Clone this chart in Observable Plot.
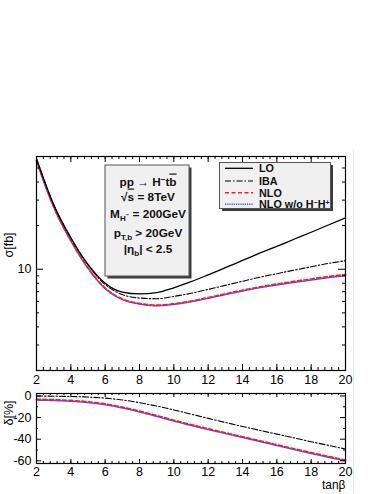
<!DOCTYPE html>
<html><head><meta charset="utf-8">
<script src="https://cdn.jsdelivr.net/npm/d3@7"></script>
<script src="https://cdn.jsdelivr.net/npm/@observablehq/plot@0.6"></script>
<style>
body{margin:0;background:#fff;width:382px;height:494px;overflow:hidden;position:relative;font-family:"Liberation Sans",Arial,Helvetica,sans-serif;}
#top{position:absolute;left:0;top:150px;}
#bot{position:absolute;left:0;top:385px;}
#edge{position:absolute;left:353px;top:150px;width:1px;height:344px;background:#e8e8e8;}
svg{overflow:visible;}
</style></head><body>
<div id="edge"></div>
<div id="top"></div><div id="bot"></div>
<script>
const tanb = [2,3,4,5,6,7,8,9,10,11,12,13,14,15,16,17,18,19,20];
const sigmaLO = [58,28,16.5,10.8,8.0,6.95,6.75,6.9,7.45,8.2,9.15,10.25,11.5,12.9,14.4,16.1,18.0,20.2,22.6];
const sigmaIBA = [58,27.94,16.42,10.69,7.84,6.69,6.33,6.26,6.49,6.82,7.26,7.74,8.26,8.80,9.32,9.85,10.39,10.97,11.45];
const sigmaNLO = [56.3,27.05,15.82,10.23,7.42,6.23,5.81,5.65,5.78,6.03,6.38,6.77,7.16,7.56,7.91,8.24,8.57,8.91,9.2];
const sigmaNLOwo = [55.8,26.82,15.69,10.14,7.35,6.18,5.75,5.60,5.72,5.96,6.30,6.68,7.07,7.46,7.79,8.11,8.42,8.75,9.02];
const deltaIBA = [0,-0.2,-0.5,-1.0,-2.0,-3.7,-6.2,-9.3,-12.9,-16.8,-20.7,-24.5,-28.2,-31.8,-35.3,-38.8,-42.3,-45.7,-49];
const deltaNLO = [-3,-3.4,-4.1,-5.3,-7.3,-10.3,-14.0,-18.1,-22.4,-26.5,-30.3,-34.0,-37.7,-41.4,-45.1,-48.8,-52.4,-55.9,-59.3];
const deltaNLOwo = [-3.8,-4.2,-4.9,-6.1,-8.1,-11.1,-14.8,-18.9,-23.2,-27.3,-31.1,-34.8,-38.5,-42.2,-45.9,-49.6,-53.2,-56.7,-60.1];
const xTickLabels = [2,4,6,8,10,12,14,16,18,20];
const xMinorTicks = d3.range(2, 20.001, 0.4);
const yTopMajor = [10];
const yTopMinor = [3,4,5,6,7,8,9,20,30,40,50];
const yBotMajor = [0,-20,-40,-60];
const yBotMinor = [-10,-30,-50];
const seriesNames = ["LO","IBA","NLO","NLO w/o H"];

const rows = (ys) => tanb.map((t,i)=>({t, v: ys[i]}));
const FONT = '"Liberation Sans",Arial,Helvetica,sans-serif';
const styles = {
  LO: {stroke:"#000", strokeWidth:1.3},
  IBA: {stroke:"#000", strokeWidth:1.1, strokeDasharray:"6,2,1.5,2"},
  NLO: {stroke:"#ff1a1a", strokeWidth:1.6, strokeDasharray:"4,2.5"},
  WO: {stroke:"#4d4dff", strokeWidth:1.5, strokeDasharray:"1.2,1"}
};

function frameTicks(W, H, majX, minX, majY, minY, majLen, minLen) {
  return [
    Plot.tickX(majX, {x: d=>d, insetTop: H-majLen, stroke:"#000"}),
    Plot.tickX(minX, {x: d=>d, insetTop: H-minLen, stroke:"#000"}),
    Plot.tickX(majX, {x: d=>d, insetBottom: H-majLen, stroke:"#000"}),
    Plot.tickX(minX, {x: d=>d, insetBottom: H-minLen, stroke:"#000"}),
    Plot.tickY(majY, {y: d=>d, insetRight: W-majLen-1, stroke:"#000"}),
    Plot.tickY(minY, {y: d=>d, insetRight: W-minLen, stroke:"#000"}),
    Plot.tickY(majY, {y: d=>d, insetLeft: W-majLen-1, stroke:"#000"}),
    Plot.tickY(minY, {y: d=>d, insetLeft: W-minLen, stroke:"#000"})
  ];
}

// ---------- top panel ----------
const tW = 382, tH = 240, tmT = 6, tmB = 20, tmL = 36, tmR = 37;
const topPlot = Plot.plot({
  width: tW, height: tH, marginTop: tmT, marginBottom: tmB, marginLeft: tmL, marginRight: tmR,
  style: {fontFamily: FONT, fontSize: "12.5px", background: "transparent", color: "#000"},
  x: {domain: [2, 20]},
  y: {type: "log", domain: [2, 60]},
  marks: [
    Plot.line(rows(sigmaNLOwo), {x:"t", y:"v", curve:"monotone-x", ...styles.WO}),
    Plot.line(rows(sigmaNLO), {x:"t", y:"v", curve:"monotone-x", ...styles.NLO}),
    Plot.line(rows(sigmaIBA), {x:"t", y:"v", curve:"monotone-x", ...styles.IBA}),
    Plot.line(rows(sigmaLO), {x:"t", y:"v", curve:"monotone-x", ...styles.LO}),
    ...frameTicks(tW-tmL-tmR, tH-tmT-tmB, xTickLabels, xMinorTicks, yTopMajor, yTopMinor, 6, 3),
    Plot.axisX({ticks: xTickLabels, tickSize: 0, tickPadding: 5, label: null, tickFormat: d=>d}),
    Plot.axisY({ticks: yTopMajor, tickSize: 0, tickPadding: 5, label: null, tickFormat: d=>d}),
    Plot.text(["σ[fb]"], {frameAnchor: "left", rotate: -90, dx: -28, dy: -6, fontSize: 12.5}),
    Plot.frame({stroke: "#000", strokeWidth: 1.2})
  ]
});
document.getElementById("top").appendChild(topPlot);

// ---------- bottom panel ----------
const bW = 382, bH = 109, bmT = 8, bmB = 31, bmL = 36, bmR = 37;
const botPlot = Plot.plot({
  width: bW, height: bH, marginTop: bmT, marginBottom: bmB, marginLeft: bmL, marginRight: bmR,
  style: {fontFamily: FONT, fontSize: "12.5px", background: "transparent", color: "#000"},
  x: {domain: [2, 20]},
  y: {domain: [-62.5, 2.3]},
  marks: [
    Plot.line(rows(deltaNLOwo), {x:"t", y:"v", curve:"monotone-x", ...styles.WO}),
    Plot.line(rows(deltaNLO), {x:"t", y:"v", curve:"monotone-x", ...styles.NLO}),
    Plot.line(rows(deltaIBA), {x:"t", y:"v", curve:"monotone-x", ...styles.IBA}),
    ...frameTicks(bW-bmL-bmR, bH-bmT-bmB, xTickLabels, xMinorTicks, yBotMajor, yBotMinor, 4, 2),
    Plot.axisX({ticks: xTickLabels, tickSize: 0, tickPadding: 4, label: null, tickFormat: d=>d}),
    Plot.axisY({ticks: yBotMajor, tickSize: 0, tickPadding: 5, label: null, tickFormat: d=>d}),
    Plot.text(["tanβ"], {frameAnchor: "bottom-right", textAnchor: "end", dy: 25.5, fontSize: 12}),
    Plot.text(["δ[%]"], {frameAnchor: "left", rotate: -90, dx: -28, dy: -3, fontSize: 12.5}),
    Plot.frame({stroke: "#000", strokeWidth: 1.2})
  ]
});
document.getElementById("bot").appendChild(botPlot);

// ---------- annotations on top panel ----------
const svg = d3.select(topPlot);
function addBox(x, y, w, h) {
  svg.append("rect").attr("x", x+2.5).attr("y", y+2.5).attr("width", w).attr("height", h).attr("fill", "#3c3c3c");
  svg.append("rect").attr("x", x).attr("y", y).attr("width", w).attr("height", h)
    .attr("fill", "#f0f0f0").attr("stroke", "#555").attr("stroke-width", 1);
}
addBox(105, 15, 84, 111);
addBox(219.5, 12.5, 111, 46);

const tg = svg.append("g").attr("font-family", FONT).attr("font-weight", "bold").attr("font-size", 11.8).attr("fill", "#111");
function line(y) { return tg.append("text").attr("x", 148).attr("y", y).attr("text-anchor", "middle"); }
let t1 = line(35.5);
t1.append("tspan").text("pp → H");
t1.append("tspan").attr("font-size", 8).attr("dy", -4).text("−");
t1.append("tspan").attr("dy", 4).text("t");
t1.append("tspan").style("text-decoration", "overline").text("b");
let t2 = line(50.5);
t2.append("tspan").text("√");
t2.append("tspan").style("text-decoration", "overline").text("s");
t2.append("tspan").text(" = 8TeV");
let t3 = line(68);
t3.append("tspan").text("M");
t3.append("tspan").attr("font-size", 8).attr("dy", 3).text("H");
t3.append("tspan").attr("font-size", 6).attr("dy", -4).text("−");
t3.append("tspan").attr("dy", 1).text(" = 200GeV");
let t4 = line(87);
t4.append("tspan").text("p");
t4.append("tspan").attr("font-size", 8).attr("dy", 3).text("T,b");
t4.append("tspan").attr("dy", -3).text(" > 20GeV");
let t5 = line(103.3);
t5.append("tspan").text("|η");
t5.append("tspan").attr("font-size", 8).attr("dy", 3).text("b");
t5.append("tspan").attr("dy", -3).text("| < 2.5");

// legend
const legY = [18.3, 31, 42.7, 54.3];
const legSt = [styles.LO, styles.IBA, styles.NLO, styles.WO];
const lg = svg.append("g").attr("font-family", FONT).attr("font-weight", "bold").attr("font-size", 10.8).attr("fill", "#111");
seriesNames.forEach((name, i) => {
  const st = legSt[i];
  svg.append("line").attr("x1", 225).attr("x2", 253).attr("y1", legY[i]).attr("y2", legY[i])
    .attr("stroke", st.stroke).attr("stroke-width", st.strokeWidth).attr("stroke-dasharray", st.strokeDasharray || null);
  const tx = lg.append("text").attr("x", 259).attr("y", legY[i] + 4).attr("text-anchor", "start");
  tx.append("tspan").text(name);
  if (i === 3) {
    tx.append("tspan").attr("font-size", 7).attr("dy", -3.5).text("−");
    tx.append("tspan").attr("dy", 3.5).text("H");
    tx.append("tspan").attr("font-size", 7).attr("dy", -3.5).text("+");
  }
});
</script>
</body></html>
